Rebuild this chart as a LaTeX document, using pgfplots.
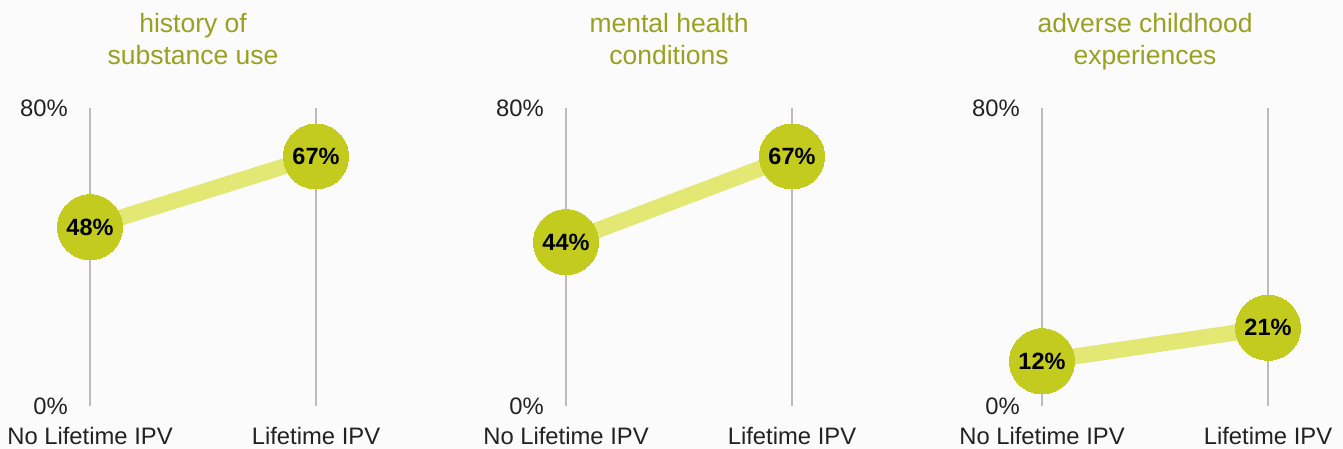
\documentclass[border=0pt]{standalone}
\usepackage{pgfplots}
\pgfplotsset{compat=1.18}
\usepackage{fontspec}
\setmainfont{Liberation Sans}
\definecolor{bgC}{RGB}{251,251,251}
\definecolor{circC}{RGB}{195,203,31}
\definecolor{lineC}{RGB}{226,232,115}
\definecolor{titleC}{RGB}{154,160,33}
\definecolor{gridC}{RGB}{188,188,188}
\definecolor{txtC}{RGB}{34,34,34}
\tikzset{ttl/.style={anchor=base, font=\fontsize{26.5}{30}\selectfont, text=titleC}}
\pgfplotsset{
  panel/.style={
    scale only axis, width=226pt, height=298pt,
    xmin=0, xmax=1, ymin=0, ymax=80,
    clip=false,
    axis line style={draw=none},
    major tick length=0pt,
    xtick={0,1}, xticklabels={No Lifetime IPV, Lifetime IPV},
    ytick={0,80}, yticklabels={0\%,80\%},
    xmajorgrids, grid style={gridC, line width=1.6pt},
    /pgf/number format/assume math mode=true,
    ticklabel style={font=\fontsize{23.8}{27}\selectfont, text=txtC},
    xticklabel style={anchor=base, yshift=-39pt},
    yticklabel style={anchor=east, xshift=-22pt, inner sep=0pt},
    anchor=south west,
  },
  conn/.style={line width=16pt, color=lineC},
  dots/.style={only marks, mark=*, mark size=32.5pt,
    mark options={fill=circC, draw=circC, line width=0pt},
    point meta=explicit symbolic,
    nodes near coords,
    every node near coord/.append style={anchor=center, font=\bfseries\fontsize{23.5}{27}\selectfont, text=black}},
}
\begin{document}
\begin{tikzpicture}
\fill[bgC, use as bounding box] (0,0) rectangle (1343pt,449pt);
% Panel 1
\begin{axis}[panel, at={(90pt,43pt)}]
\addplot[conn] coordinates {(0,48) (1,67)};
\addplot[dots] coordinates {(0,48) [48\%] (1,67) [67\%]};
\node[ttl] at (rel axis cs:0.456,1) [yshift=75pt] {history of};
\node[ttl] at (rel axis cs:0.456,1) [yshift=43pt] {substance use};
\end{axis}
% Panel 2
\begin{axis}[panel, at={(566pt,43pt)}]
\addplot[conn] coordinates {(0,44) (1,67)};
\addplot[dots] coordinates {(0,44) [44\%] (1,67) [67\%]};
\node[ttl] at (rel axis cs:0.456,1) [yshift=75pt] {mental health};
\node[ttl] at (rel axis cs:0.456,1) [yshift=43pt] {conditions};
\end{axis}
% Panel 3
\begin{axis}[panel, at={(1042pt,43pt)}]
\addplot[conn] coordinates {(0,12) (1,21)};
\addplot[dots] coordinates {(0,12) [12\%] (1,21) [21\%]};
\node[ttl] at (rel axis cs:0.456,1) [yshift=75pt] {adverse childhood};
\node[ttl] at (rel axis cs:0.456,1) [yshift=43pt] {experiences};
\end{axis}
\end{tikzpicture}
\end{document}
